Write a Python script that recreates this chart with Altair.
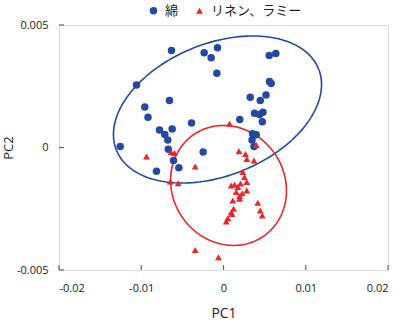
import altair as alt
import pandas as pd
import numpy as np

# --- data ---
cotton_pc1 = [-0.00632, -0.00235, -0.00150, -0.00073, -0.00081, 0.00556, 0.00636, -0.01058,
              0.00559, 0.00580, 0.00325, 0.00447, 0.00517, -0.00657, -0.00957, -0.00918,
              -0.00389, 0.00198, 0.00377, 0.00438, 0.00480, 0.00472, -0.00778, -0.00624,
              -0.00714, -0.00677, -0.01256, -0.00671, -0.00247, -0.00608, -0.00543, -0.00815,
              0.00353, 0.00398, 0.00347, 0.00371]
cotton_pc2 = [0.00396, 0.00387, 0.00366, 0.00407, 0.00303, 0.00376, 0.00384, 0.00255,
              0.00269, 0.00261, 0.00205, 0.00192, 0.00214, 0.00192, 0.00165, 0.00123,
              0.00100, 0.00114, 0.00140, 0.00135, 0.00144, 0.00105, 0.00071, 0.00076,
              0.00053, 0.00031, 0.00004, -0.00007, -0.00018, -0.00053, -0.00083, -0.00097,
              0.00056, 0.00052, 0.00031, 0.00004]

linen_pc1 = [0.00073, -0.00936, -0.00638, -0.00596, -0.00344, -0.00648, -0.00551, 0.00398,
             0.00188, 0.00267, 0.00283, 0.00371, 0.00235, 0.00255, 0.00283, 0.00094,
             0.00134, 0.00174, 0.00207, 0.00154, 0.00283, 0.00195, 0.00113, 0.00417,
             0.00122, 0.00094, 0.00446, 0.00471, 0.00052, 0.00033, -0.00344, -0.00061,
             0.00195, 0.00227, 0.00101]
linen_pc2 = [0.00097, -0.00037, -0.00019, -0.00022, -0.00078, -0.00139, -0.00146, 0.00010,
             -0.00015, -0.00027, -0.00047, -0.00053, -0.00100, -0.00120, -0.00141, -0.00155,
             -0.00151, -0.00161, -0.00147, -0.00182, -0.00176, -0.00198, -0.00216, -0.00226,
             -0.00250, -0.00264, -0.00257, -0.00278, -0.00289, -0.00302, -0.00418, -0.00448,
             -0.00209, -0.00187, -0.00271]

groups = ["綿", "リネン、ラミー"]
colors = ["#2449A0", "#E8262C"]

# ellipse parameters: centre (cx, cy) and conjugate semi-axis vectors u, v
ell_cx = [-0.00073, 0.00061]
ell_cy = [0.00155, -0.00155]
ell_ux = [0.01229, 0.00422]
ell_uy = [0.001657, -0.00208]
ell_vx = [-0.00299, 0.00564]
ell_vy = [0.002502, 0.00129]

x_ticks = [-0.02, -0.01, 0, 0.01, 0.02]
y_ticks = [-0.005, 0, 0.005]

# --- build tables ---
pts = pd.DataFrame({
    "PC1": cotton_pc1 + linen_pc1,
    "PC2": cotton_pc2 + linen_pc2,
    "group": [groups[0]] * len(cotton_pc1) + [groups[1]] * len(linen_pc1),
})

t = np.linspace(0, 2 * np.pi, 181)
ell_tables = []
for i, g in enumerate(groups):
    rows = []
    for k, tt in enumerate(t):
        rows.append({
            "PC1": ell_cx[i] + ell_ux[i] * np.cos(tt) + ell_vx[i] * np.sin(tt),
            "PC2": ell_cy[i] + ell_uy[i] * np.cos(tt) + ell_vy[i] * np.sin(tt),
            "k": k,
        })
    ell_tables.append(pd.DataFrame(rows))

W, H = 329, 245
xs = alt.Scale(domain=[-0.02, 0.02], nice=False, zero=False)
ys = alt.Scale(domain=[-0.005, 0.005], nice=False, zero=False)
cs = alt.Scale(domain=groups, range=colors)

x_axis = alt.Axis(
    values=x_ticks, title="PC1", labelExpr="'' + datum.value",
    grid=False, domain=False, ticks=False, labelPadding=12,
    labelFontSize=11, titleFontSize=14, titlePadding=13,
    labelColor="#222", titleColor="#222", titleFontWeight="normal")
y_axis = alt.Axis(
    values=y_ticks, title="PC2", labelExpr="'' + datum.value",
    grid=False, domain=False, ticks=False, labelPadding=11,
    labelFontSize=11, titleFontSize=13, titlePadding=1,
    labelColor="#222", titleColor="#222", titleFontWeight="normal")

ell_layers = []
for i in range(2):
    ell_layers.append(
        alt.Chart(ell_tables[i]).mark_line(strokeWidth=1.6, clip=True, color=colors[i]).encode(
            x=alt.X("PC1:Q", scale=xs, axis=x_axis),
            y=alt.Y("PC2:Q", scale=ys, axis=y_axis),
            order="k:Q",
        )
    )

points = alt.Chart(pts).mark_point(filled=True, opacity=1).encode(
    x=alt.X("PC1:Q", scale=xs, axis=x_axis),
    y=alt.Y("PC2:Q", scale=ys, axis=y_axis),
    color=alt.Color("group:N", scale=cs, legend=alt.Legend(
        title=None, orient="none", direction="horizontal",
        legendX=88, legendY=-21, labelFontSize=13, labelFont="Noto Sans CJK JP",
        symbolSize=55, columnPadding=14, labelOffset=5, labelColor="#222")),
    shape=alt.Shape("group:N", scale=alt.Scale(domain=groups, range=["circle", "triangle-up"])),
    size=alt.Size("group:N", scale=alt.Scale(domain=groups, range=[56, 48]), legend=None),
)

xt = alt.Chart(pd.DataFrame({"PC1": x_ticks})).mark_rule(color="#666", strokeWidth=1.2).encode(
    x=alt.X("PC1:Q", scale=xs, axis=x_axis),
    y=alt.value(H), y2=alt.value(H - 5),
)
yt = alt.Chart(pd.DataFrame({"PC2": y_ticks})).mark_rule(color="#666", strokeWidth=1.2).encode(
    y=alt.Y("PC2:Q", scale=ys, axis=y_axis),
    x=alt.value(0), x2=alt.value(5),
)

chart = alt.layer(xt, yt, *ell_layers, points).properties(
    width=W, height=H,
    autosize=alt.AutoSizeParams(type="none"),
    padding={"left": 59, "top": 25, "right": 12, "bottom": 53},
).configure_view(stroke="#666", strokeWidth=1.4).configure(
    font="Open Sans"
)

chart.save("out.html", embed_options={"renderer": "svg", "actions": False})
